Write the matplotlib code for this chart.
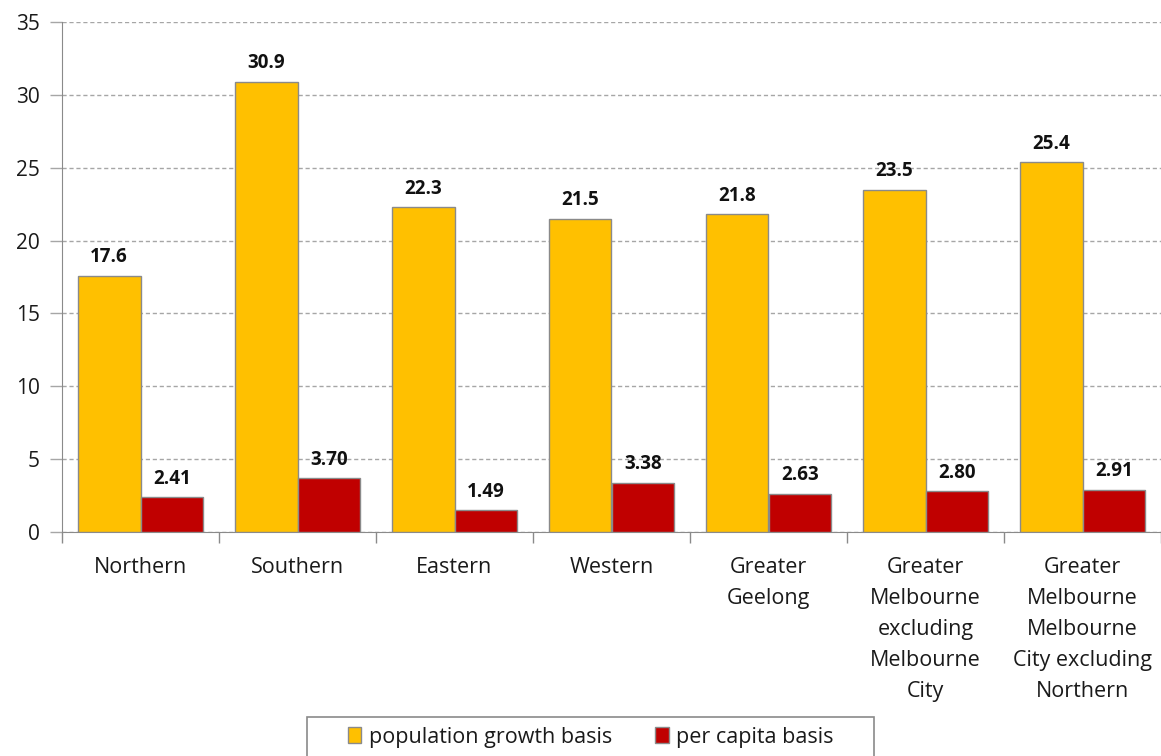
import matplotlib
matplotlib.use("Agg")
import matplotlib.pyplot as plt
from matplotlib.patches import Rectangle
import numpy as np

categories = ["Northern", "Southern", "Eastern", "Western", "Greater\nGeelong",
              "Greater\nMelbourne\nexcluding\nMelbourne\nCity",
              "Greater\nMelbourne\nMelbourne\nCity excluding\nNorthern"]
population_growth = [17.6, 30.9, 22.3, 21.5, 21.8, 23.5, 25.4]
per_capita = [2.41, 3.70, 1.49, 3.38, 2.63, 2.80, 2.91]
pop_labels = ["17.6", "30.9", "22.3", "21.5", "21.8", "23.5", "25.4"]
cap_labels = ["2.41", "3.70", "1.49", "3.38", "2.63", "2.80", "2.91"]

plt.rcParams["font.family"] = ["Open Sans", "DejaVu Sans"]

W, H = 1161, 756
fig = plt.figure(figsize=(W / 100, H / 100), dpi=100)
ax = fig.add_axes([62 / W, 1 - 532 / H, 1 - 62 / W, (532 - 22) / H])

x = np.arange(len(categories))
w = 0.4
b1 = ax.bar(x - w / 2, population_growth, w, color="#FFC000", edgecolor="#8a8a8a",
            linewidth=1, label="population growth basis", zorder=3)
b2 = ax.bar(x + w / 2, per_capita, w, color="#C00000", edgecolor="#8a8a8a",
            linewidth=1, label="per capita basis", zorder=3)

for xi, v, t in zip(x - w / 2, population_growth, pop_labels):
    ax.annotate(t, (xi, v), xytext=(0, 6), textcoords="offset points",
                ha="center", va="bottom", fontsize=13.5, fontweight="bold", color="#111111")
for xi, v, t in zip(x + w / 2, per_capita, cap_labels):
    ax.annotate(t, (xi, v), xytext=(0, 6), textcoords="offset points",
                ha="center", va="bottom", fontsize=13.5, fontweight="bold", color="#111111")

ax.set_xlim(-0.5, len(categories) - 0.5)
ax.set_ylim(0, 35)
ax.set_yticks(np.arange(0, 36, 5))
ax.yaxis.grid(True, linestyle=(0, (3, 2)), color="#a6a6a6", linewidth=1, zorder=0)
ax.set_axisbelow(True)

ax.set_xticks(np.arange(-0.5, len(categories), 1.0))
ax.set_xticklabels([])
ax.set_xticks(x, minor=True)
ax.set_xticklabels(categories, minor=True, fontsize=15.5, color="#1a1a1a", linespacing=1.62, va="top")
ax.tick_params(axis="x", which="minor", length=0, pad=18)
ax.tick_params(axis="x", which="major", length=8, color="#8a8a8a", width=1)
ax.tick_params(axis="y", length=9, color="#a6a6a6", width=1, labelsize=15,
               labelcolor="#1a1a1a", pad=7)

for s in ["top", "right"]:
    ax.spines[s].set_visible(False)
ax.spines["left"].set_color("#8a8a8a")
ax.spines["bottom"].set_color("#8a8a8a")

# legend entries without their own frame, then a wide box around them
leg = fig.legend(handles=[b1, b2], loc="center", bbox_to_anchor=(590.5 / W, 1 - 737 / H),
                 ncol=2, fontsize=15.5, frameon=False,
                 handlelength=0.65, handleheight=0.7, handletextpad=0.33, columnspacing=2.0,
                 borderpad=0, borderaxespad=0)
for t in leg.get_texts():
    t.set_color("#1a1a1a")
fig.patches.append(Rectangle((307 / W, -0.02), (874 - 307) / W, 0.02 + (H - 717) / H,
                             transform=fig.transFigure, fill=False,
                             edgecolor="#8a8a8a", linewidth=1.2))

fig.savefig("out.png", dpi=100)
